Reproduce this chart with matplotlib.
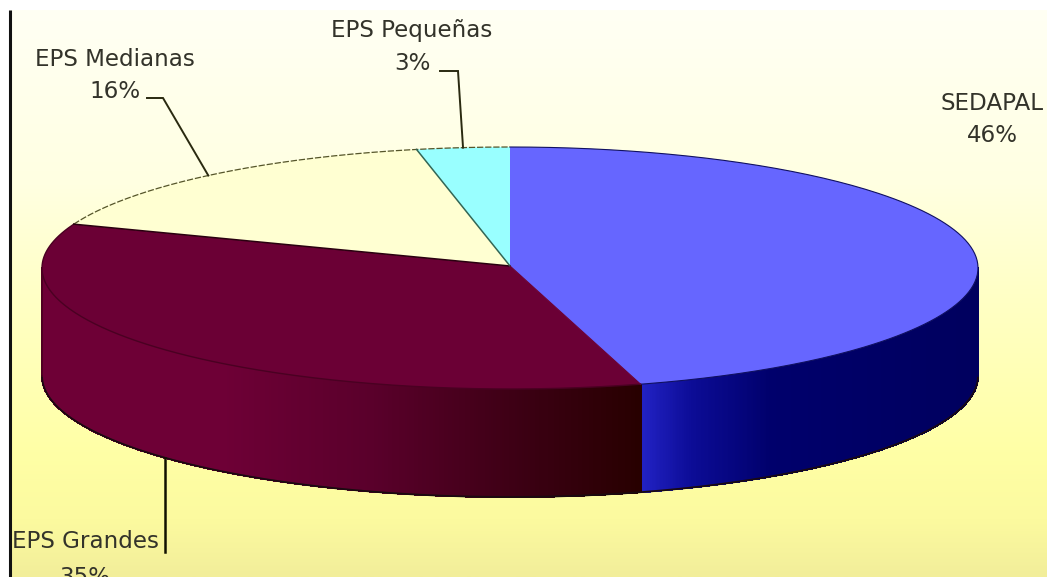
import numpy as np
import matplotlib
matplotlib.use("Agg")
import matplotlib.pyplot as plt
from matplotlib.colors import LinearSegmentedColormap
from matplotlib.collections import PolyCollection

# ---- data ----
categories = ["SEDAPAL", "EPS Grandes", "EPS Medianas", "EPS Pequeñas"]
shares = [45.5, 35.4, 15.9, 3.2]
top_colors = ["#6666FF", "#6B0035", "#FFFFD2", "#99FFFF"]

# ---- geometry / style ----
W, H = 1047, 577
CX, CY, RX, RY, DEPTH = 510, 268, 468, 121, 108
TEXT = "#33332A"
FONT = "DejaVu Sans"
FS = 16.6

fig = plt.figure(figsize=(W / 100, H / 100), dpi=100, facecolor="white")
ax = fig.add_axes([0, 0, 1, 1])
ax.set_xlim(0, W)
ax.set_ylim(H, 0)
ax.axis("off")

bg = LinearSegmentedColormap.from_list("bg", [
    (0.00, "#FFFFF4"), (0.30, "#FFFFE2"), (0.50, "#FFFFC6"),
    (0.78, "#FFFFA6"), (0.90, "#FCFA9F"), (1.00, "#F2EE9A")])
ax.imshow(np.linspace(0, 1, 256)[:, None], cmap=bg, aspect="auto",
          extent=(10, W, H, 10), zorder=0, interpolation="bilinear")
ax.set_xlim(0, W)
ax.set_ylim(H, 0)
ax.plot([9.5, 9.5], [10, H], color="#111111", lw=2.2, zorder=1, solid_capstyle="butt")


def ex(t):
    return CX + RX * np.sin(np.radians(t))


def ey(t):
    return CY - RY * np.cos(np.radians(t))


edges = np.concatenate([[0], np.cumsum(shares)]) * 3.6

# colour stops run leftwards for maroon, rightwards for blue, both from the shared edge
side_stops = [
    [(0.0, "#2222C4"), (0.15, "#0C0C96"), (0.38, "#00006C"), (1.0, "#00005E")],
    [(0.0, "#280000"), (0.18, "#3A0012"), (0.45, "#5A002B"), (0.70, "#6E0036"), (1.0, "#6E0036")],
]
walls = [(max(edges[0], 90), min(edges[1], 270)), (max(edges[1], 90), min(edges[2], 270))]
shared_x = ex(edges[1])

# side walls of the two front wedges
for (t0, t1), stops in zip(walls, side_stops):
    ts = np.linspace(t0, t1, 400)
    cmap = LinearSegmentedColormap.from_list("s", stops)
    span = max(abs(ex(t0) - shared_x), abs(ex(t1) - shared_x))
    polys, cols = [], []
    for a, b in zip(ts[:-1], ts[1:]):
        polys.append([(ex(a), ey(a)), (ex(b), ey(b)),
                      (ex(b), ey(b) + DEPTH), (ex(a), ey(a) + DEPTH)])
        cols.append(cmap(abs(ex(a) - shared_x) / span))
    ax.add_collection(PolyCollection(polys, facecolors=cols, edgecolors=cols,
                                     linewidths=0.8, antialiaseds=False, zorder=2))

ts = np.linspace(90, 270, 300)
ax.plot(ex(ts), ey(ts) + DEPTH, color="#1A0A10", lw=1.3, zorder=3)
ax.plot([ex(90)] * 2, [ey(90), ey(90) + DEPTH], color="#00005E", lw=1.2, zorder=3)
ax.plot([ex(270)] * 2, [ey(270), ey(270) + DEPTH], color="#4A0020", lw=1.2, zorder=3)

# top faces
for i, c in enumerate(top_colors):
    ts = np.linspace(edges[i], edges[i + 1], 200)
    xs = np.concatenate([[CX], ex(ts)])
    ys = np.concatenate([[CY - 2], ey(ts)])
    ax.fill(xs, ys, facecolor=c, edgecolor="none", zorder=4)

# outlines
ts = np.linspace(edges[1], edges[2], 200)
ax.plot(ex(ts), ey(ts), color="#4A0022", lw=1.0, zorder=5)
ts = np.linspace(edges[0], edges[1], 200)
ax.plot(ex(ts), ey(ts), color="#101060", lw=0.8, zorder=5)
ts = np.linspace(edges[2], 360, 200)
ax.plot(ex(ts), ey(ts), color="#55552A", lw=0.9, ls=(0, (5, 1.5)), zorder=5)
ax.plot([CX, ex(edges[2])], [CY - 2, ey(edges[2])], color="#2A0010", lw=1.1, zorder=5)
ax.plot([CX, ex(edges[3])], [CY - 2, ey(edges[3])], color="#336655", lw=1.1, zorder=5)
ax.plot([CX, ex(edges[1])], [CY - 2, ey(edges[1])], color="#6B0035", lw=0.8, zorder=5)

# labels
mids = (edges[:-1] + edges[1:]) / 2
label_pos = [(992, 104, 136), (85, 541, 578), (115, 60, 92), (412, 31, 64)]
for name, v, (x, y1, y2) in zip(categories, shares, label_pos):
    ax.text(x, y1, name, ha="center", va="center", fontsize=FS, color=TEXT,
            family=FONT, zorder=7, clip_on=False)
    ax.text(x, y2, f"{v:.0f}%", ha="center", va="center", fontsize=FS, color=TEXT,
            family=FONT, zorder=7, clip_on=False)

# leader lines end at each wedge's mid-angle on the rim
line_kw = dict(color="#2A2A10", lw=1.4, zorder=6, solid_joinstyle="miter")
m = mids[2]
ax.plot([147, 163, ex(m)], [98, 98, ey(m)], **line_kw)
m = mids[3]
ax.plot([440, 458, ex(m)], [71, 71, ey(m)], **line_kw)
m = mids[1]
ax.plot([ex(m)] * 2, [ey(m) + DEPTH, 552], **dict(line_kw, color="#111100", lw=1.8))

fig.savefig("out.png", dpi=100, facecolor="white")
